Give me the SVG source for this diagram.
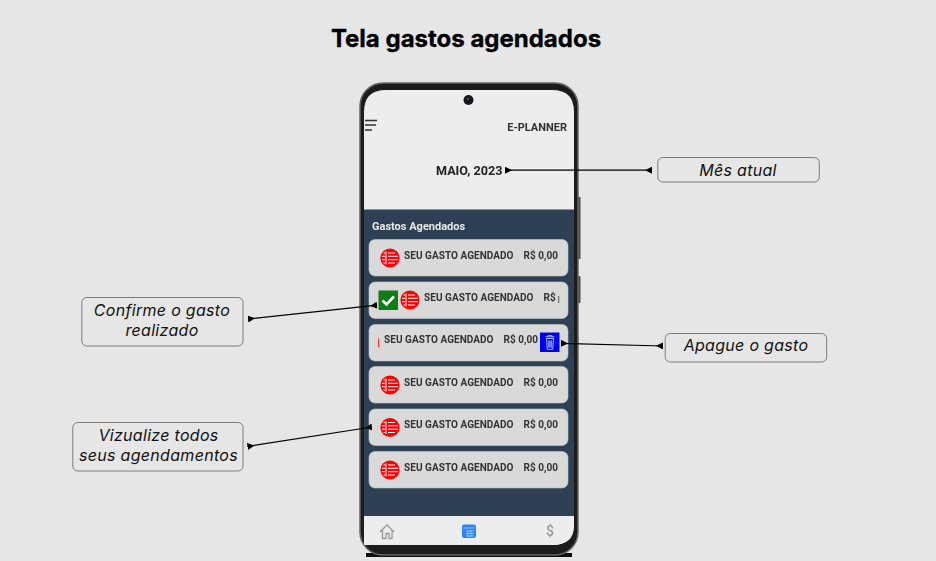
<svg xmlns="http://www.w3.org/2000/svg" width="936" height="561" viewBox="0 0 936 561">
<style>
.bx{fill:#e6e6e6;stroke:#6f6f6f;stroke-width:.9}
.lb{font:italic 400 16px Inter,"Liberation Sans",sans-serif;fill:#111;text-anchor:middle;letter-spacing:.3px}
.ln{fill:none;stroke:#000;stroke-width:1.2}
.card{fill:#d9d9d9;stroke:#c4c8cc;stroke-width:.6}
.t{font:700 10px Roboto,"Liberation Sans",sans-serif;fill:#333;letter-spacing:.05px}
.ic{fill:#f00}
.ib{stroke:#fff;stroke-width:1;fill:none}
</style>
<defs>
<filter id="soft" x="-5%" y="-5%" width="110%" height="110%"><feGaussianBlur stdDeviation="0.55"/></filter>
<marker id="ms" viewBox="0 0 7 7" refX="0" refY="3.5" markerWidth="7" markerHeight="7" markerUnits="userSpaceOnUse" orient="auto"><path d="M0 0L7 3.5L0 7z" fill="#000"/></marker>
<marker id="me" viewBox="0 0 7 7" refX="7" refY="3.5" markerWidth="7" markerHeight="7" markerUnits="userSpaceOnUse" orient="auto"><path d="M7 0L0 3.5L7 7z" fill="#000"/></marker>
<g id="ricon"><circle r="9.6" class="ic"/><path class="ib" d="M-2 -5H5M-2 -1.700H8M-2 1.700H8M-2 5H5M-4 -6.500V6.500"/><path d="M-8 -1.700H-5M-8 1.700H-5M-6.500 -5H-5M-6.500 5H-5" stroke="#fff" stroke-width="1"/></g>
</defs>
<rect width="936" height="561" fill="#e6e6e6"/>
<text x="466" y="47" text-anchor="middle" font-family="Inter,'Liberation Sans',sans-serif" font-weight="700" font-size="24" stroke="#000" stroke-width=".35" fill="#000">Tela gastos agendados</text>

<g id="phone">
<g filter="url(#soft)">
<rect x="577.500" y="197" width="3" height="62" rx="1" fill="#4a4f55"/>
<rect x="577.500" y="276" width="3" height="27" rx="1" fill="#4a4f55"/>
<path d="M366 553H572V557H366Z" fill="#111"/>
<rect x="360" y="83" width="218" height="472" rx="23" fill="#1c1c1e" stroke="#666" stroke-width="1.500"/>
<path d="M364 545V112Q364 90 386 90H552Q574 90 574 112V523Q574 545 552 545Z" fill="#ededed"/>
<rect x="364" y="209.500" width="210" height="306.500" fill="#2d4053"/>
<path d="M364 516H574V526Q574 545 552 545H386Q364 545 364 526Z" fill="#ededed"/>
<circle cx="468.500" cy="100" r="5" fill="#15171c"/><circle cx="468" cy="99" r="1.200" fill="#456"/>
<path d="M365 120.500H377M365 125H376M365 130H372" stroke="#333" stroke-width="1.300" fill="none"/>
<text x="567" y="131" text-anchor="end" font-family="Roboto,'Liberation Sans',sans-serif" font-weight="700" font-size="11" fill="#333">E-PLANNER</text>
<text x="436" y="175" font-family="Roboto,'Liberation Sans',sans-serif" font-weight="700" font-size="12.600" fill="#222">MAIO, 2023</text>
<text x="372" y="230" font-family="Roboto,'Liberation Sans',sans-serif" font-weight="700" font-size="11" fill="#e8e8e8">Gastos Agendados</text>

<rect class="card" x="369" y="239.500" width="199" height="36.500" rx="6"/>
<rect class="card" x="369" y="282" width="199" height="36.500" rx="6"/>
<rect class="card" x="369" y="324.500" width="199" height="36.500" rx="6"/>
<rect class="card" x="369" y="366.500" width="199" height="36.500" rx="6"/>
<rect class="card" x="369" y="409" width="199" height="36.500" rx="6"/>
<rect class="card" x="369" y="451.500" width="199" height="36.500" rx="6"/>

<use href="#ricon" x="390" y="258"/>
<text class="t" x="404" y="258.500">SEU GASTO AGENDADO</text><text class="t" x="523.500" y="258.500">R$ 0,00</text>

<rect x="378.500" y="290.500" width="19.500" height="19.500" fill="#0b7d14"/>
<path d="M382.500 300.500L386.500 304.500L394 296.500" fill="none" stroke="#fff" stroke-width="2.600"/>
<use href="#ricon" x="410" y="300"/>
<text class="t" x="424" y="301">SEU GASTO AGENDADO</text>
<text class="t" x="543.500" y="301">R$</text><rect x="558" y="296" width="1.300" height="7" fill="#777"/>

<rect x="378" y="338.500" width="1.200" height="9" fill="#f33"/>
<text class="t" x="384" y="343">SEU GASTO AGENDADO</text><text class="t" x="503.500" y="343">R$ 0,00</text>
<rect x="540" y="332.500" width="19.500" height="19.500" fill="#0505f5"/>
<path d="M545.500 336.800H554.500M548 336.800V335.500H552V336.800M546.500 338.500L547.300 349.300H552.700L553.500 338.500ZM548.800 340.500V347.500M550 340.500V347.500M551.300 340.500V347.500" fill="none" stroke="#b9c8ff" stroke-width=".9"/>

<use href="#ricon" x="390" y="385"/>
<text class="t" x="404" y="385.500">SEU GASTO AGENDADO</text><text class="t" x="523.500" y="385.500">R$ 0,00</text>
<use href="#ricon" x="390" y="427.500"/>
<text class="t" x="404" y="428">SEU GASTO AGENDADO</text><text class="t" x="523.500" y="428">R$ 0,00</text>
<use href="#ricon" x="390" y="470"/>
<text class="t" x="404" y="470.500">SEU GASTO AGENDADO</text><text class="t" x="523.500" y="470.500">R$ 0,00</text>

<path d="M380 532L387 525L394 532M382.500 530V538.500H386V533.500H389V538.500H392V530" fill="none" stroke="#999" stroke-width="1.300"/>
<rect x="462" y="524.500" width="14" height="13.500" rx="2" fill="#2a85f5"/>
<path d="M463 528H475M466 531H474M466 533.500H474M466 536H474M468 530V537M471 530V537" stroke="#cfe3ff" stroke-width=".6" fill="none"/>
<text x="550" y="536" text-anchor="middle" font-family="Roboto,'Liberation Sans',sans-serif" font-size="14" font-weight="500" fill="#999">$</text>
</g>
</g>

<g id="connectors">
<path class="ln" d="M505 170.200H652" marker-start="url(#ms)" marker-end="url(#me)"/>
<path class="ln" d="M248 319L377 305.200" marker-start="url(#ms)" marker-end="url(#me)"/>
<path class="ln" d="M247.500 446.500L372 427" marker-start="url(#ms)" marker-end="url(#me)"/>
<path class="ln" d="M561 343.300L663 346" marker-start="url(#ms)" marker-end="url(#me)"/>
</g>

<g id="node-mes"><rect class="bx" x="657.800" y="157.500" width="161.500" height="24.500" rx="5"/><text class="lb" x="738" y="175.500">Mês atual</text></g>
<g id="node-apague"><rect class="bx" x="665.200" y="333.500" width="161.500" height="28.500" rx="5"/><text class="lb" x="746" y="351">Apague o gasto</text></g>
<g id="node-confirme"><rect class="bx" x="81.800" y="297.500" width="161.200" height="48.500" rx="5"/><text class="lb" x="162" y="316">Confirme o gasto</text><text class="lb" x="162" y="336">realizado</text></g>
<g id="node-vizualize"><rect class="bx" x="72.800" y="422.500" width="170.200" height="48.500" rx="5"/><text class="lb" x="158.500" y="441">Vizualize todos</text><text class="lb" x="158.500" y="461">seus agendamentos</text></g>
</svg>
